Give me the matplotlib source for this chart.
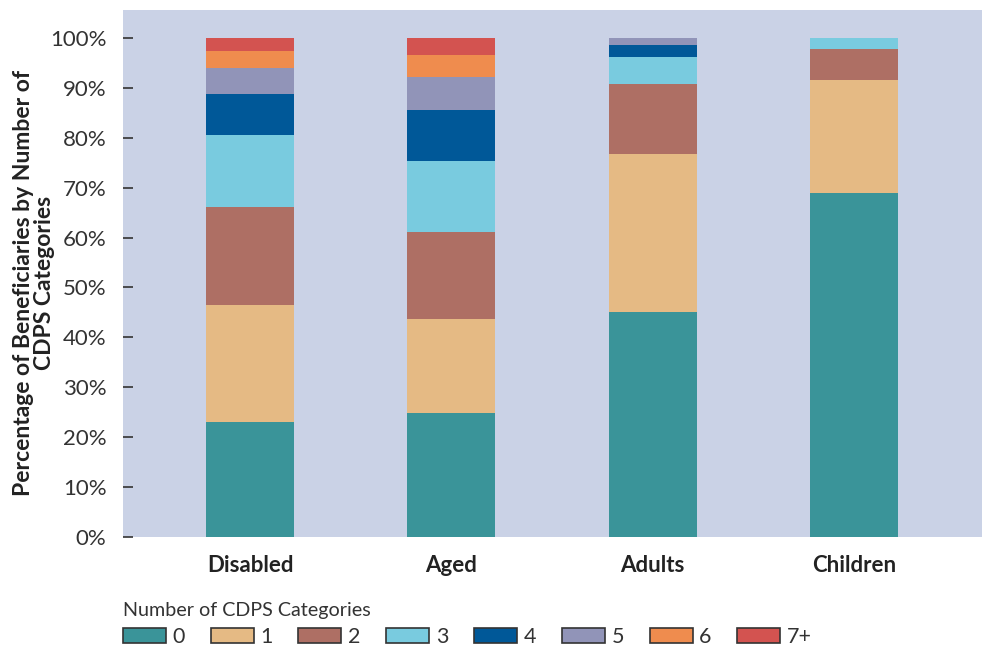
import numpy as np
import matplotlib.pyplot as plt
import matplotlib.ticker as mticker

plt.rcParams['font.family'] = ['Lato', 'DejaVu Sans']

# Data (percent of beneficiaries, per number of CDPS categories)
groups = ["Disabled", "Aged", "Adults", "Children"]
series_labels = ["0", "1", "2", "3", "4", "5", "6", "7+"]
cat_0  = [23.0, 24.8, 45.1, 68.9]
cat_1  = [23.5, 18.9, 31.7, 22.7]
cat_2  = [19.6, 17.4, 14.0,  6.2]
cat_3  = [14.5, 14.3,  5.4,  2.2]
cat_4  = [ 8.2, 10.2,  2.4,  0.0]
cat_5  = [ 5.2,  6.6,  1.4,  0.0]
cat_6  = [ 3.4,  4.4,  0.0,  0.0]
cat_7p = [ 2.6,  3.4,  0.0,  0.0]
series = [cat_0, cat_1, cat_2, cat_3, cat_4, cat_5, cat_6, cat_7p]

colors = ["#3a9499", "#e5ba84", "#ae6f64", "#79cbdf",
          "#005898", "#9194b8", "#ef8c4e", "#d35350"]

W, H = 982, 650
fig = plt.figure(figsize=(W / 100, H / 100), dpi=100)
ax = fig.add_axes([123 / W, (H - 537) / H, (W - 123) / W, (537 - 10) / H])
ax.set_facecolor("#cad2e6")

x = np.arange(len(groups))
bottom = np.zeros(len(groups))
handles = []
for vals, col, lab in zip(series, colors, series_labels):
    ax.bar(x, vals, width=0.437, bottom=bottom, color=col, label=lab, zorder=2)
    bottom += np.array(vals)
    handles.append(plt.Rectangle((0, 0), 1, 1, facecolor=col, edgecolor="#333333", linewidth=1.2))

ax.set_xlim(-0.631, 3.636)
ax.set_ylim(0, 105.6)
ax.set_yticks(np.arange(0, 101, 10))
ax.yaxis.set_major_formatter(mticker.FuncFormatter(lambda v, p: f"{int(v)}%"))
ax.tick_params(axis="y", direction="in", length=7, width=1.2, color="#333333",
               labelsize=16, labelcolor="#333333", pad=12)
ax.tick_params(axis="x", length=0, pad=13)
ax.set_xticks(x)
ax.set_xticklabels(groups, fontsize=16, fontweight="bold", color="#222222")
for s in ax.spines.values():
    s.set_visible(False)

fig.text(34 / W, (H - 283) / H, "Percentage of Beneficiaries by Number of\nCDPS Categories",
         rotation=90, ha="center", va="center", fontsize=16.5, fontweight="bold",
         color="#222222", linespacing=0.95)

leg = fig.legend(handles, series_labels, loc="upper left",
                 bbox_to_anchor=(123 / W, (H - 602) / H), ncol=8, frameon=False,
                 title="Number of CDPS Categories", title_fontsize=14.2, fontsize=15.5,
                 handlelength=2.0, handleheight=0.72, handletextpad=0.3,
                 columnspacing=1.2, borderpad=0, borderaxespad=0, labelspacing=0.2)
leg._legend_box.align = "left"
leg._legend_box.sep = 6
for t in leg.get_texts():
    t.set_color("#333333")
leg.get_title().set_color("#333333")

fig.savefig("out.png", dpi=100)
